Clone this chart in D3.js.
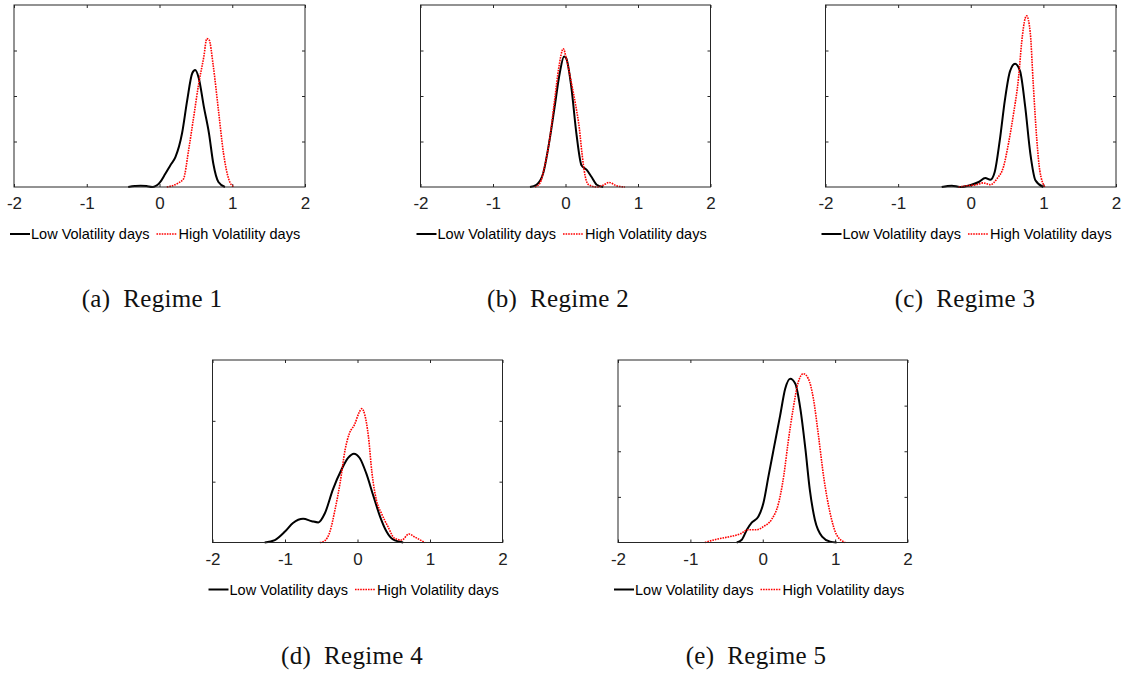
<!DOCTYPE html>
<html>
<head>
<meta charset="utf-8">
<script src="https://cdn.jsdelivr.net/npm/d3@7"></script>
<style>
body { margin: 0; background: #fff; }
svg text { font-family: "Liberation Sans", Arial, Helvetica, sans-serif; }
</style>
</head>
<body>
<svg width="1122" height="675"></svg>
<script>
// x ticks shared by every panel, y range per panel
const xTicks = [-2, -1, 0, 1, 2];
const yMaxes = [4, 4, 4, 3, 4];
const seriesNames = ['Low Volatility days', 'High Volatility days'];
const captionTags = ['(a)', '(b)', '(c)', '(d)', '(e)'];
const captionTexts = ['Regime 1', 'Regime 2', 'Regime 3', 'Regime 4', 'Regime 5'];

// density curves: [return, density]
const r1Low = [[-0.43,0],[-0.34,0.02],[-0.26,0.03],[-0.18,0.02],[-0.1,0],[0,0.09],[0.08,0.29],[0.15,0.48],[0.22,0.66],[0.31,1.18],[0.38,1.9],[0.45,2.5],[0.49,2.57],[0.54,2.39],[0.61,1.76],[0.68,1.18],[0.74,0.51],[0.81,0.11],[0.9,0]];
const r1High = [[0.1,0],[0.26,0.09],[0.33,0.18],[0.4,0.81],[0.47,1.54],[0.54,2.28],[0.61,2.87],[0.65,3.26],[0.68,3.24],[0.74,2.65],[0.81,1.69],[0.88,0.74],[0.95,0.18],[1.02,0]];

const r2Low = [[-0.49,0],[-0.4,0.05],[-0.31,0.29],[-0.22,1.03],[-0.15,1.76],[-0.08,2.5],[-0.02,2.87],[0.01,2.83],[0.08,2.2],[0.15,1.18],[0.22,0.48],[0.29,0.38],[0.36,0.22],[0.43,0.05],[0.52,0]];
const r2High = [[-0.42,0],[-0.35,0.09],[-0.29,0.44],[-0.22,1.03],[-0.15,1.91],[-0.09,2.65],[-0.03,3.04],[0.01,2.83],[0.08,2.3],[0.14,1.8],[0.19,1.3],[0.23,0.7],[0.27,0.25],[0.32,0.05],[0.43,0],[0.52,0.04],[0.6,0.1],[0.7,0.03],[0.82,0]];

const r3Low = [[-0.4,0],[-0.26,0.03],[-0.15,0],[-0.01,0.04],[0.11,0.11],[0.2,0.2],[0.27,0.16],[0.33,0.33],[0.4,1.03],[0.47,1.91],[0.54,2.54],[0.61,2.71],[0.68,2.54],[0.75,1.76],[0.82,0.74],[0.89,0.15],[1.0,0]];
const r3High = [[-0.17,0],[-0.03,0.03],[0.08,0.05],[0.17,0.09],[0.27,0.05],[0.36,0.18],[0.45,0.44],[0.52,0.96],[0.59,1.62],[0.66,2.43],[0.7,3.16],[0.75,3.71],[0.77,3.76],[0.82,3.38],[0.86,2.28],[0.91,1.03],[0.95,0.37],[1.02,0]];

const r4Low = [[-1.28,0],[-1.14,0.04],[-1.0,0.18],[-0.89,0.32],[-0.75,0.39],[-0.63,0.35],[-0.54,0.33],[-0.45,0.48],[-0.34,0.87],[-0.22,1.2],[-0.13,1.39],[-0.05,1.46],[0.03,1.39],[0.12,1.14],[0.22,0.76],[0.31,0.43],[0.4,0.18],[0.49,0.05],[0.63,0]];
const r4High = [[-0.52,0],[-0.45,0.03],[-0.38,0.18],[-0.31,0.54],[-0.24,0.98],[-0.17,1.53],[-0.11,1.8],[-0.04,1.94],[0.02,2.13],[0.06,2.2],[0.1,2.1],[0.15,1.75],[0.2,1.14],[0.26,0.7],[0.33,0.48],[0.42,0.26],[0.51,0.07],[0.61,0.04],[0.71,0.14],[0.79,0.09],[0.93,0]];

const r5Low = [[-0.36,0],[-0.29,0.06],[-0.22,0.28],[-0.15,0.44],[-0.06,0.57],[0.01,0.87],[0.08,1.46],[0.15,2.04],[0.24,2.78],[0.31,3.37],[0.38,3.59],[0.45,3.48],[0.52,2.93],[0.59,2.04],[0.65,1.16],[0.72,0.5],[0.82,0.13],[0.93,0.02],[1.02,0]];
const r5High = [[-0.8,0],[-0.64,0.07],[-0.45,0.13],[-0.31,0.19],[-0.2,0.28],[-0.08,0.28],[0.01,0.35],[0.12,0.5],[0.22,0.87],[0.29,1.46],[0.35,2.19],[0.42,2.93],[0.49,3.51],[0.56,3.7],[0.63,3.59],[0.7,3.15],[0.77,2.34],[0.84,1.46],[0.93,0.65],[1.02,0.17],[1.14,0]];

const lowSeries = [r1Low, r2Low, r3Low, r4Low, r5Low];
const highSeries = [r1High, r2High, r3High, r4High, r5High];

// panel boxes on the page
const boxes = [
	{ l: 14, t: 5, w: 291, h: 182, cx: 152, cy: 307 },
	{ l: 420.5, t: 5, w: 290, h: 182, cx: 558, cy: 307 },
	{ l: 825.5, t: 5, w: 290.5, h: 182, cx: 965, cy: 307 },
	{ l: 212.5, t: 360, w: 290, h: 182.5, cx: 352, cy: 664 },
	{ l: 618, t: 360, w: 289.5, h: 182.5, cx: 756, cy: 664 }
];

const svg = d3.select('svg');
const axisColor = '#262626';

boxes.forEach((b, i) => {
	let x = d3.scaleLinear().domain([-2, 2]).range([b.l, b.l + b.w]);
	let y = d3.scaleLinear().domain([0, yMaxes[i]]).range([b.t + b.h, b.t]);
	let yTicks = d3.range(1, yMaxes[i]);

	let g = svg.append('g');

	// bottom axis with labels, ticks pointing in
	g.append('g')
		.attr('transform', `translate(0,${b.t + b.h})`)
		.call(d3.axisBottom(x).tickValues(xTicks).tickSizeInner(-3).tickSizeOuter(0).tickPadding(10).tickFormat(d => String(d)))
		.call(a => a.select('.domain').remove())
		.call(a => a.selectAll('line').attr('stroke', axisColor))
		.call(a => a.selectAll('text').style('font-size', '17px').attr('fill', '#222'));

	// top ticks
	g.append('g')
		.attr('transform', `translate(0,${b.t})`)
		.call(d3.axisTop(x).tickValues(xTicks).tickSizeInner(-3).tickSizeOuter(0).tickFormat(''))
		.call(a => a.select('.domain').remove())
		.call(a => a.selectAll('line').attr('stroke', axisColor));

	// left and right ticks, no labels
	g.append('g')
		.attr('transform', `translate(${b.l},0)`)
		.call(d3.axisLeft(y).tickValues(yTicks).tickSizeInner(-3).tickSizeOuter(0).tickFormat(''))
		.call(a => a.select('.domain').remove())
		.call(a => a.selectAll('line').attr('stroke', axisColor));
	g.append('g')
		.attr('transform', `translate(${b.l + b.w},0)`)
		.call(d3.axisRight(y).tickValues(yTicks).tickSizeInner(-3).tickSizeOuter(0).tickFormat(''))
		.call(a => a.select('.domain').remove())
		.call(a => a.selectAll('line').attr('stroke', axisColor));

	let line = d3.line()
		.x(d => x(d[0]))
		.y(d => y(d[1]))
		.curve(d3.curveMonotoneX);

	g.append('path')
		.attr('d', line(lowSeries[i]))
		.attr('fill', 'none')
		.attr('stroke', '#000')
		.attr('stroke-width', 2);

	g.append('path')
		.attr('d', line(highSeries[i]))
		.attr('fill', 'none')
		.attr('stroke', '#ff0000')
		.attr('stroke-width', 1.6)
		.attr('stroke-dasharray', '1.6,1');

	// box on top
	g.append('rect')
		.attr('x', b.l).attr('y', b.t)
		.attr('width', b.w).attr('height', b.h)
		.attr('fill', 'none')
		.attr('stroke', axisColor)
		.attr('stroke-width', 1);

	// legend under the axis
	let ly = b.t + b.h + 47;
	let lx = b.l - 4;
	g.append('line')
		.attr('x1', lx).attr('x2', lx + 20)
		.attr('y1', ly).attr('y2', ly)
		.attr('stroke', '#000').attr('stroke-width', 2);
	let t1 = g.append('text')
		.attr('x', lx + 21).attr('y', ly + 5)
		.style('font-size', '14.5px').attr('fill', '#000')
		.text(seriesNames[0]);
	let rx = lx + 21 + t1.node().getComputedTextLength() + 7;
	g.append('line')
		.attr('x1', rx).attr('x2', rx + 20)
		.attr('y1', ly).attr('y2', ly)
		.attr('stroke', '#ff0000').attr('stroke-width', 1.6)
		.attr('stroke-dasharray', '1.6,1');
	g.append('text')
		.attr('x', rx + 22).attr('y', ly + 5)
		.style('font-size', '14.5px').attr('fill', '#000')
		.text(seriesNames[1]);

	// caption
	let cap = g.append('text')
		.attr('x', b.cx).attr('y', b.cy)
		.attr('text-anchor', 'middle')
		.style('font-family', '"Liberation Serif", "Times New Roman", serif')
		.style('font-size', '25px')
		.attr('letter-spacing', 0.3)
		.attr('fill', '#111');
	cap.append('tspan').text(captionTags[i]);
	cap.append('tspan').attr('dx', 13).text(captionTexts[i]);
});
</script>
</body>
</html>
